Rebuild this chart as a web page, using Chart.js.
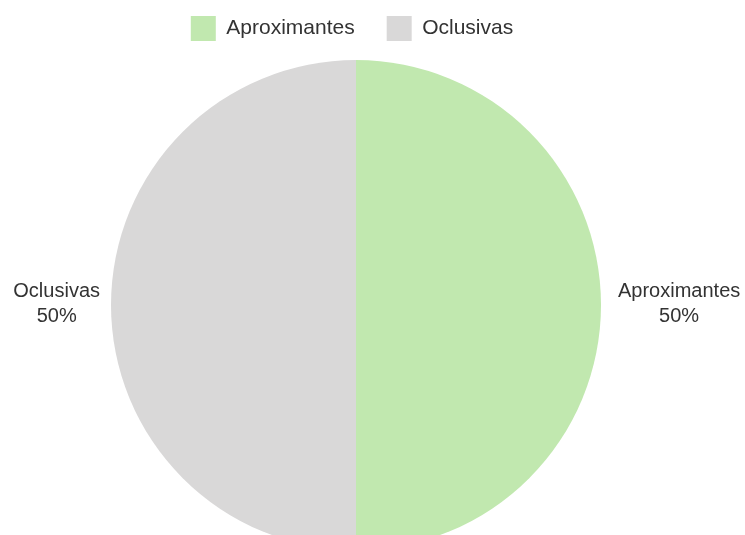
<!DOCTYPE html>
<html>
<head>
<meta charset="utf-8">
<script src="https://cdn.jsdelivr.net/npm/chart.js@4"></script>
<style>
  html, body { margin: 0; padding: 0; background: #fff; overflow: hidden; }
  #wrap { position: relative; width: 745px; height: 535px; overflow: hidden; }
  #box { position: absolute; left: 0; top: -16px; width: 745px; height: 575px; }
</style>
</head>
<body>
<div id="wrap"><div id="box"><canvas id="pieChart"></canvas></div></div>
<script>
// categorias y valores
var categorias = ["Aproximantes", "Oclusivas"];
var valores = [50, 50];
var colores = ["#c1e8af", "#d9d8d8"];

// etiquetas fuera del pastel: nombre + porcentaje
var etiquetasFuera = {
  id: "etiquetasFuera",
  afterLayout: function (chart) {
    // la leyenda va un poco a la izquierda del centro del pastel
    chart.legend.left -= 4;
    chart.legend.right -= 4;
  },
  afterDatasetsDraw: function (chart) {
    var ctx = chart.ctx;
    var meta = chart.getDatasetMeta(0);
    var total = valores.reduce(function (a, b) { return a + b; }, 0);
    ctx.save();
    ctx.font = "20px 'Liberation Sans', Arial, sans-serif";
    ctx.fillStyle = "#333";
    ctx.textBaseline = "middle";
    ctx.textAlign = "center";
    meta.data.forEach(function (arc, i) {
      var medio = (arc.startAngle + arc.endAngle) / 2;
      var r = arc.outerRadius + 14;
      var x = arc.x + 3 + Math.cos(medio) * r;
      var y = arc.y + Math.sin(medio) * r;
      var lineas = [categorias[i], Math.round(valores[i] / total * 100) + "%"];
      var ancho = Math.max.apply(null, lineas.map(function (t) { return ctx.measureText(t).width; }));
      var cx = Math.cos(medio) >= 0 ? x + ancho / 2 : x - ancho / 2;
      lineas.forEach(function (t, j) {
        ctx.fillText(t, cx, y - 14 + j * 25);
      });
    });
    ctx.restore();
  }
};

var grafico = new Chart(document.getElementById("pieChart"), {
  type: "pie",
  data: {
    labels: categorias,
    datasets: [{
      data: valores,
      backgroundColor: colores,
      borderWidth: 0,
      hoverOffset: 0
    }]
  },
  options: {
    responsive: true,
    maintainAspectRatio: false,
    animation: false,
    layout: { padding: { left: 111, right: 144, top: 0, bottom: 0 } },
    plugins: {
      tooltip: { enabled: false },
      legend: {
        position: "top",
        labels: {
          boxWidth: 25,
          boxHeight: 25,
          padding: 32,
          color: "#333",
          font: { family: "'Liberation Sans', Arial, sans-serif", size: 21 }
        }
      }
    }
  },
  plugins: [etiquetasFuera]
});
</script>
</body>
</html>
